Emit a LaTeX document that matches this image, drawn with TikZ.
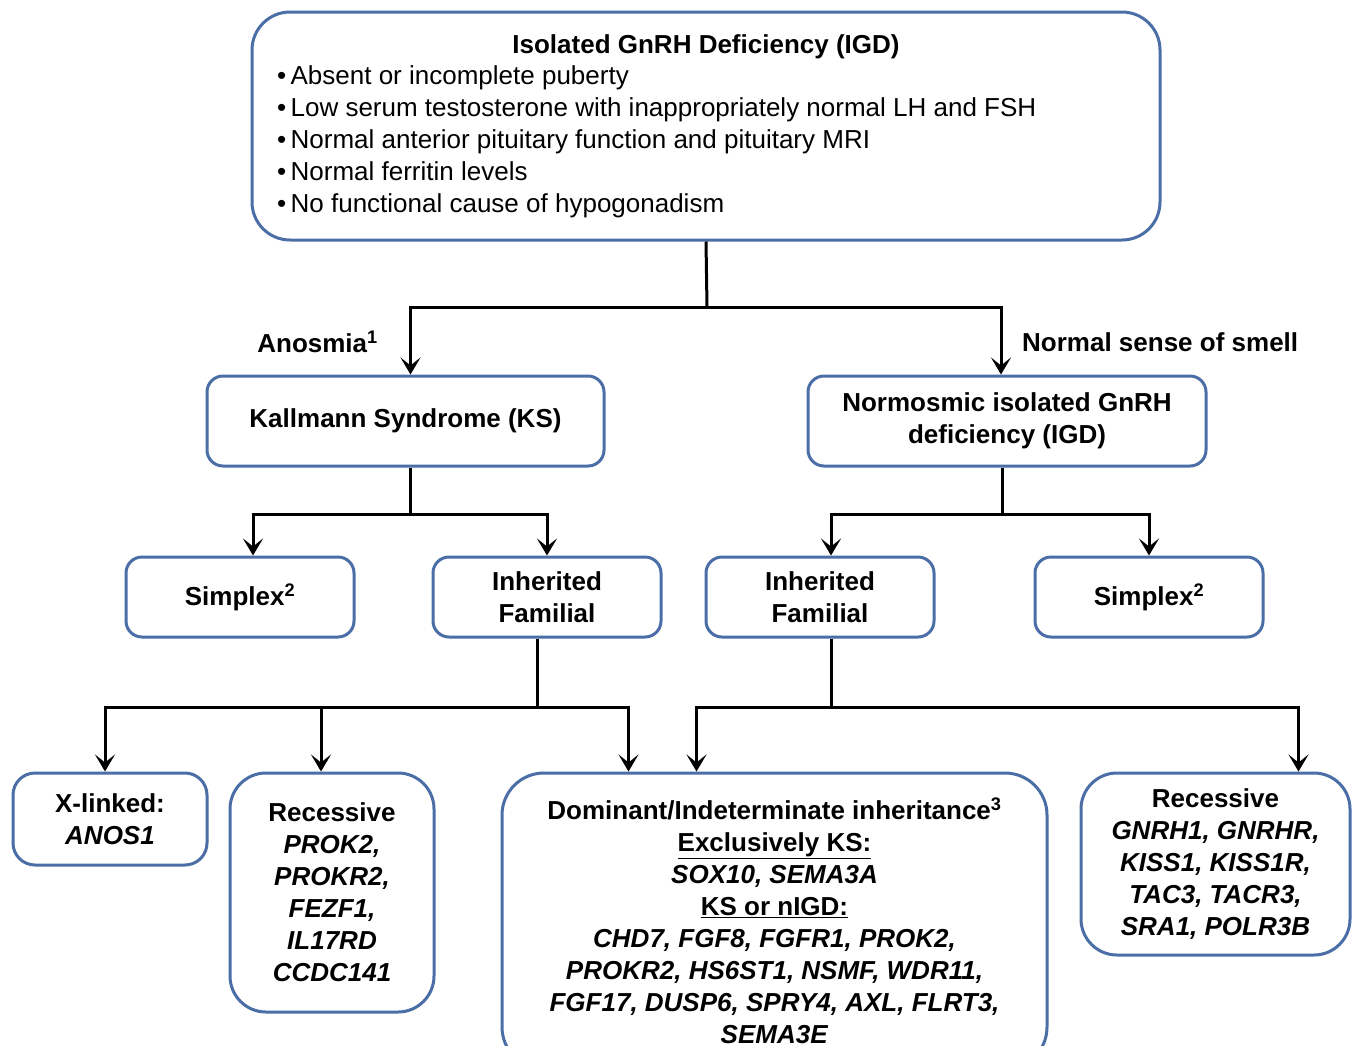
\documentclass[tikz,border=0pt]{standalone}
\usepackage{fontspec}
\setmainfont{Liberation Sans}
\usepackage{xcolor}
\usepackage{tikz}
\usetikzlibrary{arrows.meta,calc}
\definecolor{boxblue}{RGB}{74,110,165}

\begin{document}
\begin{tikzpicture}[x=1pt, y=-1pt,
        every node/.style = {align=center, inner sep=0pt,
                             font=\fontsize{26}{32}\selectfont\bfseries},
        box/.style = {draw=boxblue, line width=3pt, rounded corners=16pt},
        conn/.style = {line width=3pt},
        arr/.style = {line width=3pt, -{Stealth[length=17pt,width=20pt,inset=8pt]}}]
    \clip (0,0) rectangle (1352,1045);
    \fill[white] (0,0) rectangle (1352,1045);

    % top level
    \node[box, rounded corners=38pt, minimum width=908pt, minimum height=228pt] (igd) at (706,126) {};
    \node (igdhead) at (706,47) {Isolated GnRH Deficiency (IGD)};
    \node[anchor=west, align=left, font=\fontsize{26}{32}\selectfont] (igdlist) at (277,142)
        {\textbullet\,Absent or incomplete puberty\\
         \textbullet\,Low serum testosterone with inappropriately normal LH and FSH\\
         \textbullet\,Normal anterior pituitary function and pituitary MRI\\
         \textbullet\,Normal ferritin levels\\
         \textbullet\,No functional cause of hypogonadism};

    % second level
    \node[box, minimum width=397pt, minimum height=90pt] (ks) at (405.5,421) {Kallmann Syndrome (KS)};
    \node[box, minimum width=398pt, minimum height=90pt] (nigd) at (1007,421) {Normosmic isolated GnRH\\deficiency (IGD)};
    \node[anchor=east] (anosmia) at (378,342) {Anosmia\textsuperscript{1}};
    \node[anchor=west] (normal) at (1022,342) {Normal sense of smell};

    % third level
    \node[box, minimum width=228pt, minimum height=80pt] (simplexl) at (240,597) {Simplex\textsuperscript{2}};
    \node[box, minimum width=228pt, minimum height=80pt] (famil) at (547,597) {Inherited\\Familial};
    \node[box, minimum width=228pt, minimum height=80pt] (famir) at (820,597) {Inherited\\Familial};
    \node[box, minimum width=228pt, minimum height=80pt] (simplexr) at (1149,597) {Simplex\textsuperscript{2}};

    % genes
    \node[box, rounded corners=22pt, minimum width=194pt, minimum height=92pt] (xlinked) at (110,819)
        {X-linked:\\\textit{ANOS1}};
    \node[box, rounded corners=36pt, minimum width=204pt, minimum height=239pt] (recl) at (332,892.5)
        {Recessive\\\textit{PROK2,}\\\textit{PROKR2,}\\\textit{FEZF1,}\\\textit{IL17RD}\\\textit{CCDC141}};
    \node[box, rounded corners=42pt, minimum width=545pt, minimum height=296pt] (dom) at (774.5,921)
        {Dominant/Indeterminate inheritance\textsuperscript{3}\\
         \underline{Exclusively KS:}\\
         \textit{SOX10, SEMA3A}\\
         \underline{KS or nIGD:}\\
         \textit{CHD7, FGF8, FGFR1, PROK2,}\\
         \textit{PROKR2, HS6ST1, NSMF, WDR11,}\\
         \textit{FGF17, DUSP6, SPRY4, AXL, FLRT3,}\\
         \textit{SEMA3E}};
    \node[box, rounded corners=36pt, minimum width=269pt, minimum height=182pt] (recr) at (1215.5,864)
        {Recessive\\\textit{GNRH1, GNRHR,}\\\textit{KISS1, KISS1R,}\\\textit{TAC3, TACR3,}\\\textit{SRA1, POLR3B}};

    % connectors
    \coordinate (j1) at (707,307);
    \draw[conn] (igd.south) -- (j1);
    \draw[arr] (j1) -| ($(ks.north)+(5,0)$);
    \draw[arr] (j1) -| ($(nigd.north)+(-6,0)$);

    \coordinate (j2) at ($(ks.south)+(5,47)$);
    \draw[conn] ($(ks.south)+(5,0)$) -- (j2);
    \draw[arr] (j2) -| ($(simplexl.north)+(13,0)$);
    \draw[arr] (j2) -| (famil.north);

    \coordinate (j3) at ($(nigd.south)+(-5,47)$);
    \draw[conn] ($(nigd.south)+(-5,0)$) -- (j3);
    \draw[arr] (j3) -| ($(famir.north)+(11,0)$);
    \draw[arr] (j3) -| (simplexr.north);

    \coordinate (j4) at ($(famil.south)+(-10,69)$);
    \draw[conn] ($(famil.south)+(-10,0)$) -- (j4);
    \draw[arr] (j4) -| ($(xlinked.north)+(-5,0)$);
    \draw[arr] (j4) -| ($(recl.north)+(-11,0)$);
    \draw[arr] (j4) -| ($(dom.north)+(-146,0)$);

    \coordinate (j5) at ($(famir.south)+(11,69)$);
    \draw[conn] ($(famir.south)+(11,0)$) -- (j5);
    \draw[arr] (j5) -| ($(dom.north)+(-78,0)$);
    \draw[arr] (j5) -| ($(recr.north)+(83,0)$);
\end{tikzpicture}
\end{document}
